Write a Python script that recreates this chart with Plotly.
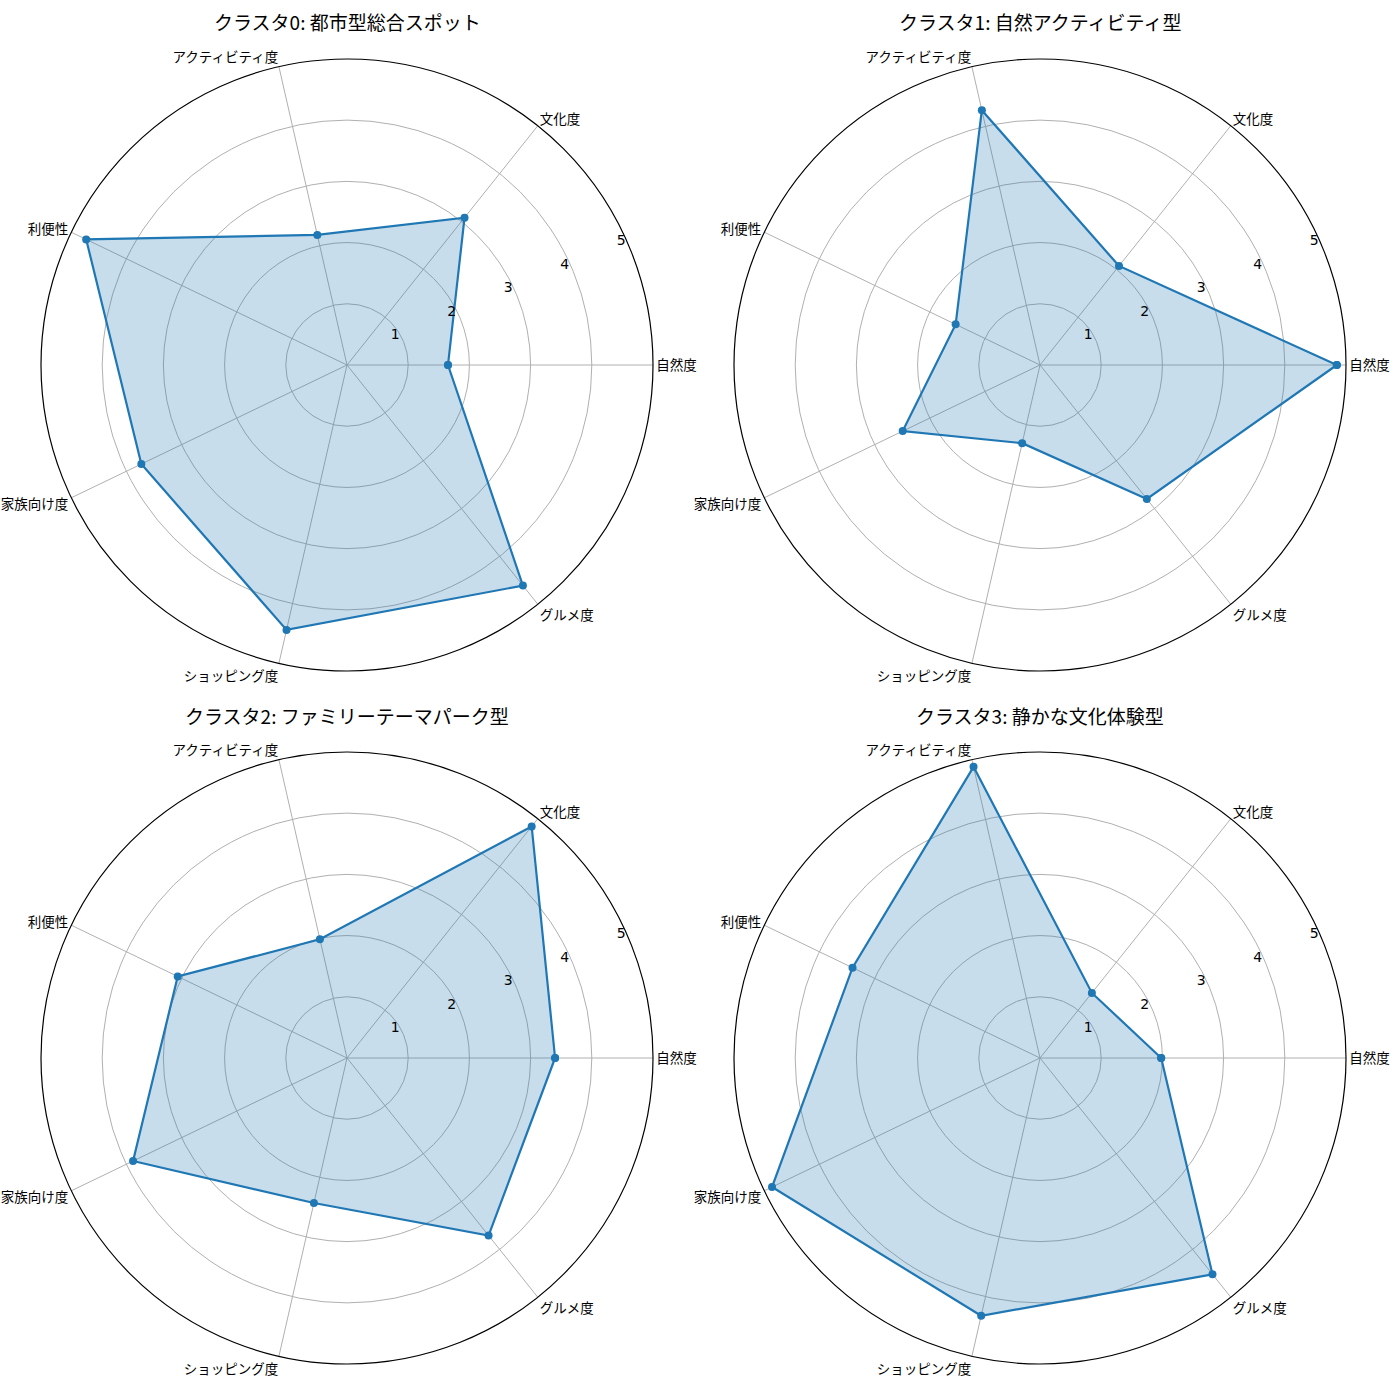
import plotly.graph_objects as go

categories = ["自然度", "文化度", "アクティビティ度", "利便性", "家族向け度", "ショッピング度", "グルメ度"]
titles = [
    "クラスタ0: 都市型総合スポット",
    "クラスタ1: 自然アクティビティ型",
    "クラスタ2: ファミリーテーマパーク型",
    "クラスタ3: 静かな文化体験型",
]
cluster0 = [1.65, 3.08, 2.18, 4.73, 3.73, 4.44, 4.61]
cluster1 = [4.85, 2.07, 4.27, 1.53, 2.49, 1.31, 2.80]
cluster2 = [3.40, 4.84, 1.99, 3.07, 3.88, 2.43, 3.71]
cluster3 = [1.98, 1.36, 4.88, 3.40, 4.86, 4.32, 4.52]
radial_ticks = [1, 2, 3, 4, 5]

series = [cluster0, cluster1, cluster2, cluster3]

W = 1400.0
# circle bounding boxes (pixels): left, right, top, bottom
boxes = [
    (41, 653, 59, 671),
    (734, 1346, 59, 671),
    (41, 653, 752, 1364),
    (734, 1346, 752, 1364),
]
title_y = [22, 22, 715, 715]

FONT = "Noto Sans CJK JP, Noto Sans, DejaVu Sans, sans-serif"
fig = go.Figure()
layout = dict(
    width=1400, height=1400,
    margin=dict(l=0, r=0, t=0, b=0),
    paper_bgcolor="white",
    plot_bgcolor="white",
    showlegend=False,
    font=dict(family=FONT, size=12, color="black"),
    annotations=[],
)

for i, (vals, title, box) in enumerate(zip(series, titles, boxes)):
    key = "polar" if i == 0 else f"polar{i+1}"
    r = list(vals) + [vals[0]]
    th = list(categories) + [categories[0]]
    fig.add_trace(go.Scatterpolar(
        r=r, theta=th, subplot=key, mode="lines+markers",
        fill="toself", fillcolor="rgba(31,119,180,0.25)",
        line=dict(color="#1f77b4", width=2.2),
        marker=dict(color="#1f77b4", size=8),
        hoverinfo="skip",
    ))
    l, rr, t, b = box
    layout[key] = dict(
        domain=dict(x=[l / W, rr / W], y=[1 - b / W, 1 - t / W]),
        bgcolor="white",
        radialaxis=dict(
            range=[0, 5], tickvals=radial_ticks,
            ticktext=["\u2007\u2007\u2007" + str(v) for v in radial_ticks],
            angle=22.5, tickangle=22.5, side="counterclockwise",
            showline=False, ticks="",
            gridcolor="#b0b0b0", gridwidth=1,
            tickfont=dict(size=14, family="DejaVu Sans", color="black"),
        ),
        angularaxis=dict(
            categoryorder="array", categoryarray=categories,
            direction="counterclockwise", rotation=0,
            showline=True, linecolor="black", linewidth=1.2,
            gridcolor="#b0b0b0", gridwidth=1, ticks="",
            tickfont=dict(size=13.5, family=FONT, color="black"),
        ),
    )
    layout["annotations"].append(dict(
        text=title, x=(l + rr) / 2 / W, y=1 - title_y[i] / W,
        xref="paper", yref="paper", xanchor="center", yanchor="middle",
        showarrow=False, font=dict(size=19, family=FONT, color="black"),
    ))

fig.update_layout(**layout)
fig.write_html("out.html")
